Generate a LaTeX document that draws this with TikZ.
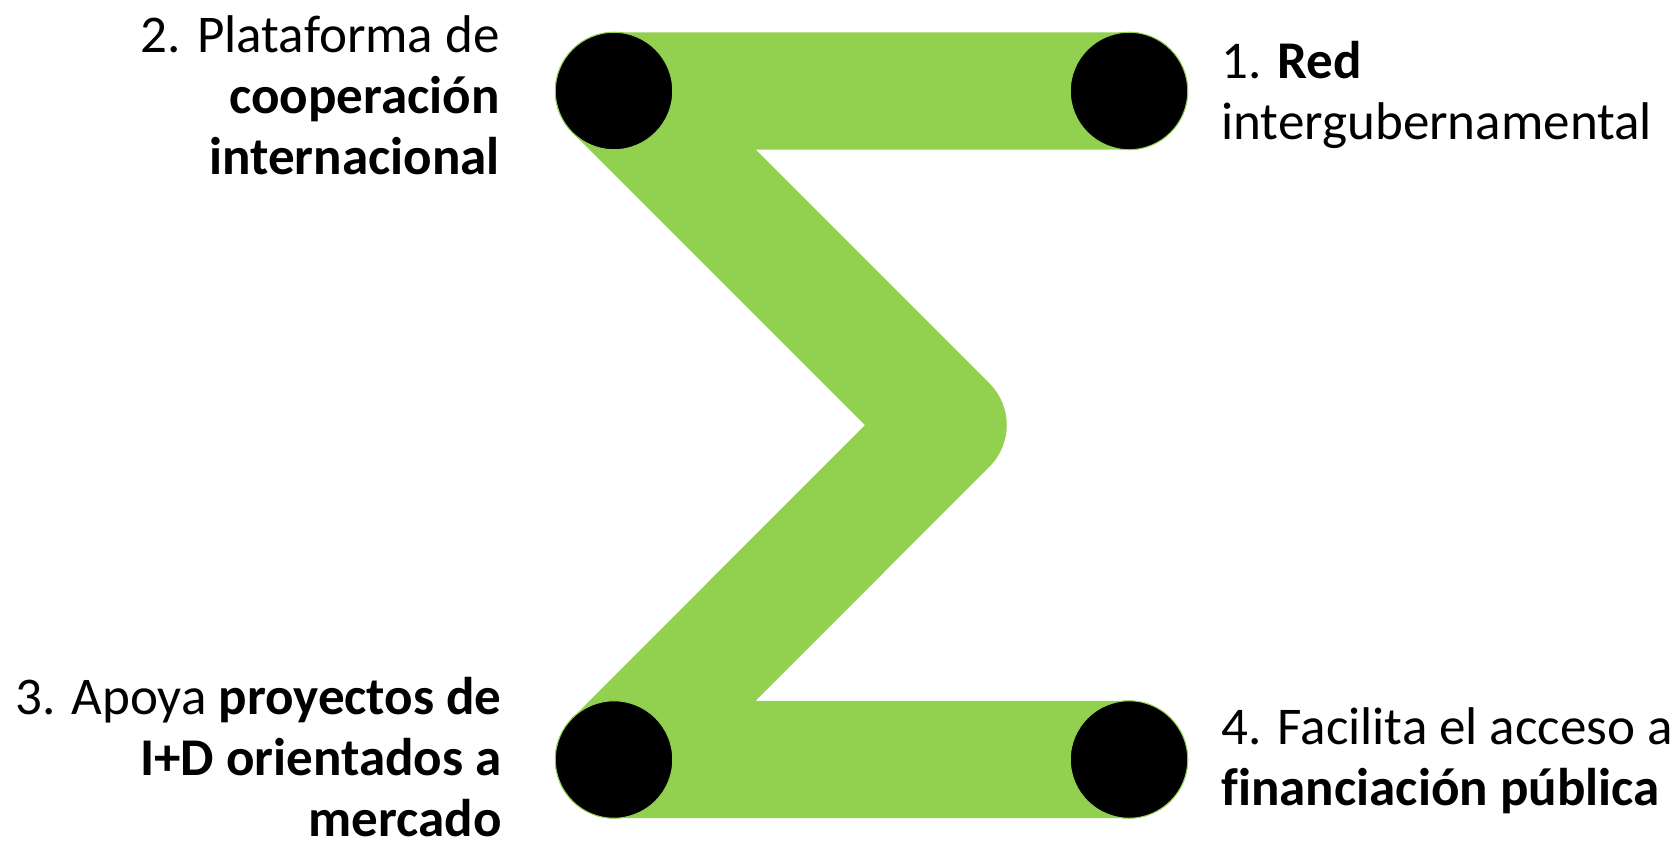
\documentclass[tikz,border=0pt]{standalone}
\usepackage{fontspec}
\setmainfont{Carlito}[Ligatures=CommonOff]
\usetikzlibrary{backgrounds}
\definecolor{bandgreen}{HTML}{92D050}
\tikzset{
  dot/.style={circle, fill=black, draw=bandgreen, line width=0.6pt, minimum size=2.35cm, inner sep=0pt},
  label/.style={inner sep=0pt, font=\fontsize{30.2}{34.6}\selectfont},
  band/.style={draw=bandgreen, line width=2.35cm, line join=round}
}
\begin{document}
\begin{tikzpicture}[x=0.02cm, y=0.02cm]
\useasboundingbox (0,0) rectangle (1675,843);
\node[dot] (red) at (1129,752){};
\node[dot] (plat) at (614,752){};
\node[dot] (apoya) at (614,83.5){};
\node[dot] (fin) at (1129,83.5){};
\coordinate (apex) at (948,418);
\begin{scope}[on background layer]
\draw[band](red.center) -- (plat.center) -- (apex) -- (apoya.center) -- (fin.center);
\end{scope}
\node[label, anchor=east, align=right] (tplat) at (500,748){2. Plataforma de\\\textbf{cooperación}\\\textbf{internacional}};
\node[label, anchor=west, align=left] (tred) at (1221,748){1. \textbf{Red}\\intergubernamental};
\node[label, anchor=east, align=right] (tapoya) at (502,86){3. Apoya \textbf{proyectos de}\\\textbf{I+D orientados a}\\\textbf{mercado}};
\node[label, anchor=west, align=left] (tfin) at (1221,82){4. Facilita el acceso a\\\textbf{financiación pública}};
\end{tikzpicture}
\end{document}
